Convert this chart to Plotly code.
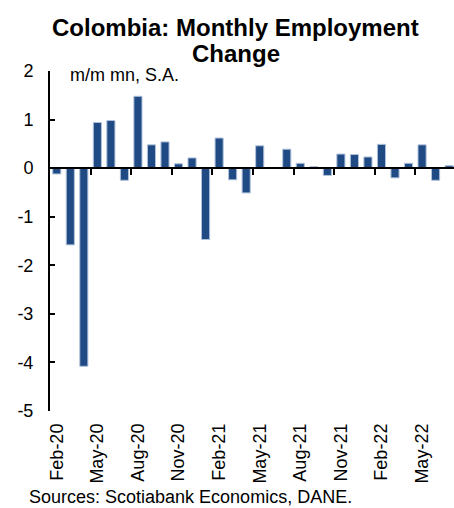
import numpy as np
import plotly.graph_objects as go

months = ["Feb-20", "Mar-20", "Apr-20", "May-20", "Jun-20", "Jul-20", "Aug-20", "Sep-20",
          "Oct-20", "Nov-20", "Dec-20", "Jan-21", "Feb-21", "Mar-21", "Apr-21", "May-21",
          "Jun-21", "Jul-21", "Aug-21", "Sep-21", "Oct-21", "Nov-21", "Dec-21", "Jan-22",
          "Feb-22", "Mar-22", "Apr-22", "May-22", "Jun-22", "Jul-22"]
change = [-0.12, -1.58, -4.08, 0.94, 0.98, -0.25, 1.48, 0.48,
          0.54, 0.09, 0.21, -1.47, 0.62, -0.24, -0.51, 0.46,
          0.0, 0.39, 0.10, 0.03, -0.15, 0.29, 0.28, 0.23,
          0.49, -0.20, 0.10, 0.48, -0.25, 0.05]
y_ticks = [2, 1, 0, -1, -2, -3, -4, -5]

FONT = "Arial, Liberation Sans, sans-serif"
idx = np.arange(len(months))
label_idx = idx[::3]
x_range = [-0.5, 29.36]
y_range = [min(y_ticks), max(y_ticks)]

fig = go.Figure()
fig.add_trace(go.Bar(
    x=idx, y=change, width=0.6,
    marker=dict(color="#1f4a84", line=dict(color="#b0c2dc", width=1)),
    showlegend=False,
))
# empty helper trace so the zero-crossing axis (x2) is rendered
fig.add_trace(go.Scatter(x=[], y=[], xaxis="x2", yaxis="y", mode="markers",
                         showlegend=False, hoverinfo="skip"))

zero_pos = (0 - y_range[0]) / (y_range[1] - y_range[0])

fig.update_layout(
    width=454, height=508,
    margin=dict(l=50, r=0, t=71, b=97),
    paper_bgcolor="white", plot_bgcolor="white",
    font=dict(family=FONT, size=18, color="black"),
    xaxis=dict(
        range=x_range, showgrid=False, zeroline=False, showline=False,
        tickmode="array", tickvals=label_idx, ticktext=[months[i] for i in label_idx],
        tickangle=-90, ticks="", tickfont=dict(size=18), ticklabelstandoff=8,
    ),
    xaxis2=dict(
        overlaying="x", anchor="free", position=zero_pos, side="bottom",
        range=x_range, showgrid=False, zeroline=False,
        showline=True, linecolor="black", linewidth=2,
        tickmode="array", tickvals=label_idx[1:] - 0.5, showticklabels=False,
        ticks="outside", ticklen=6, tickwidth=2, tickcolor="black",
    ),
    yaxis=dict(
        range=y_range, showgrid=False, zeroline=False,
        showline=True, linecolor="black", linewidth=2,
        tickmode="array", tickvals=y_ticks, ticktext=[str(v) for v in y_ticks],
        ticks="inside", ticklen=5, tickwidth=2, tickcolor="black",
        ticklabelstandoff=11,
    ),
    bargap=0.4,
)

fig.add_annotation(text="<b>Colombia: Monthly Employment</b>", xref="paper", yref="paper",
                   x=0.46, y=1.129, xanchor="center", yanchor="middle", showarrow=False,
                   font=dict(size=24, family=FONT))
fig.add_annotation(text="<b>Change</b>", xref="paper", yref="paper",
                   x=0.46, y=1.051, xanchor="center", yanchor="middle", showarrow=False,
                   font=dict(size=24, family=FONT))
fig.add_annotation(text="m/m mn, S.A.", xref="paper", yref="paper",
                   x=0.0446, y=0.988, xanchor="left", yanchor="middle", showarrow=False,
                   font=dict(size=18, family=FONT))
fig.add_annotation(text="Sources: Scotiabank Economics, DANE.", xref="paper", yref="paper",
                   x=-0.057, y=-0.253, xanchor="left", yanchor="middle", showarrow=False,
                   font=dict(size=18, family=FONT))

fig.write_html("out.html")
